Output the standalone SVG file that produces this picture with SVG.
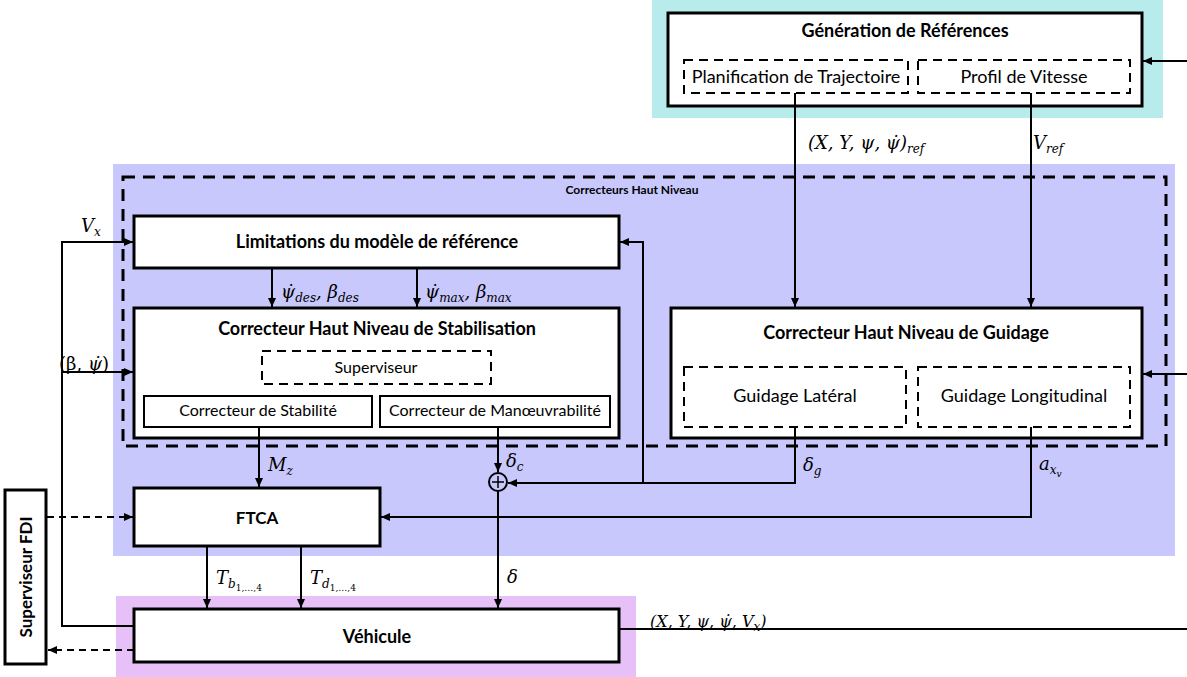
<svg xmlns="http://www.w3.org/2000/svg" width="1187" height="677" viewBox="0 0 1187 677">
<defs>
<marker id="ah" markerUnits="userSpaceOnUse" markerWidth="10" markerHeight="8" refX="9" refY="4" orient="auto">
<path d="M0,0 L9,4 L0,8 Z" fill="#000"/>
</marker>
<style>
.box{fill:#fff;stroke:#000;stroke-width:3}
.sub{fill:#fff;stroke:#000;stroke-width:2}
.dbox{fill:none;stroke:#000;stroke-width:2;stroke-dasharray:9,6}
.big{fill:none;stroke:#000;stroke-width:3;stroke-dasharray:12,8}
.ln{fill:none;stroke:#000;stroke-width:2}
.arr{fill:none;stroke:#000;stroke-width:2;marker-end:url(#ah)}
.dash{fill:none;stroke:#000;stroke-width:2;stroke-dasharray:7,5;marker-end:url(#ah)}
.t{font-family:Lato,"Open Sans",sans-serif;fill:#000;text-anchor:middle}
.b{font-weight:bold;font-size:18px}
.r{font-size:18px}
.c{font-size:16px}
.m{font-family:"DejaVu Serif","Liberation Serif",serif;font-style:italic;font-size:18px;fill:#000}
.s{font-size:12px}
.ss{font-size:9px}
.n{font-style:normal}
</style>
</defs>
<rect x="652" y="0" width="511" height="118" fill="#b8ecec"/>
<rect x="113" y="164" width="1062" height="392" fill="#c8c8fc"/>
<rect x="116" y="596" width="520" height="81" fill="#e6c0f6"/>
<g id="correcteurs-haut-niveau">
<rect class="big" x="123" y="177" width="1043" height="269"/>
<text class="t" x="632" y="194" style="font-weight:bold;font-size:12px">Correcteurs Haut Niveau</text>
</g>
<g id="generation">
<rect class="box" x="668" y="13" width="474" height="93"/>
<text class="t b" x="905" y="37">Génération de Références</text>
</g>
<g id="planification">
<rect class="dbox" x="684" y="60" width="224" height="33"/>
<text class="t r" x="796" y="83">Planification de Trajectoire</text>
</g>
<g id="profil">
<rect class="dbox" x="918" y="60" width="212" height="33"/>
<text class="t r" x="1024" y="83">Profil de Vitesse</text>
</g>
<g id="limitations">
<rect class="box" x="134" y="216" width="485" height="52"/>
<text class="t b" x="377" y="248">Limitations du modèle de référence</text>
</g>
<g id="stabilisation">
<rect class="box" x="134" y="308" width="485" height="130"/>
<text class="t b" x="377" y="335">Correcteur Haut Niveau de Stabilisation</text>
</g>
<g id="superviseur">
<rect class="dbox" x="262" y="351" width="229" height="33"/>
<text class="t c" x="376" y="373">Superviseur</text>
</g>
<g id="stabilite">
<rect class="sub" x="144" y="396" width="228" height="31"/>
<text class="t c" x="258" y="416">Correcteur de Stabilité</text>
</g>
<g id="manoeuvrabilite">
<rect class="sub" x="380" y="396" width="230" height="31"/>
<text class="t c" x="495" y="416">Correcteur de Manœuvrabilité</text>
</g>
<g id="guidage">
<rect class="box" x="671" y="308" width="471" height="130"/>
<text class="t b" x="906" y="339">Correcteur Haut Niveau de Guidage</text>
</g>
<g id="guidage-lateral">
<rect class="dbox" x="684" y="367" width="222" height="60"/>
<text class="t r" x="795" y="402">Guidage Latéral</text>
</g>
<g id="guidage-longitudinal">
<rect class="dbox" x="918" y="367" width="212" height="60"/>
<text class="t r" x="1024" y="402">Guidage Longitudinal</text>
</g>
<g id="ftca">
<rect class="box" x="134" y="488" width="246" height="58"/>
<text class="t" x="257" y="524" style="font-weight:bold;font-size:17px">FTCA</text>
</g>
<g id="superviseur-fdi">
<rect class="box" x="5" y="490" width="41" height="174"/>
<text class="t" x="0" y="0" transform="translate(32,577) rotate(-90)" style="font-weight:bold;font-size:17px">Superviseur FDI</text>
</g>
<g id="vehicule">
<rect class="box" x="134" y="609" width="485" height="53"/>
<text class="t b" x="377" y="643">Véhicule</text>
</g>
<g id="somme">
<circle cx="498" cy="482" r="9" fill="none" stroke="#000" stroke-width="2"/>
<path d="M492,482 H504 M498,476 V488" stroke="#000" stroke-width="1.5"/>
</g>
<g id="connecteurs">
<path class="arr" d="M1187,61 H1143"/>
<path class="arr" d="M1187,374 H1143"/>
<path class="arr" d="M795,93 V307"/>
<path class="arr" d="M1031,93 V307"/>
<path class="arr" d="M272,268 V307"/>
<path class="arr" d="M417,268 V307"/>
<path class="arr" d="M134,626 H62 V242 H133"/>
<path class="arr" d="M62,372 H133"/>
<path class="arr" d="M259,427 V487"/>
<path class="arr" d="M498,427 V472"/>
<path class="arr" d="M795,427 V483 H508"/>
<path class="arr" d="M643,483 V242 H620"/>
<path class="arr" d="M1031,427 V517 H381"/>
<path class="arr" d="M498,491 V608"/>
<path class="arr" d="M207,546 V608"/>
<path class="arr" d="M301,546 V608"/>
<path class="ln" d="M619,629 H1187"/>
<path class="dash" d="M47,517 H133"/>
<path class="dash" d="M134,650 H48"/>
</g>
<g id="labels">
<text class="m" x="808" y="149">(X, Y, ψ, ψ̇)<tspan class="s" dy="4">ref</tspan></text>
<text class="m" x="1033" y="149">V<tspan class="s" dy="4">ref</tspan></text>
<text class="m" x="81" y="232">V<tspan class="s" dy="4">x</tspan></text>
<text class="m" x="59" y="370"><tspan class="n">(β,</tspan> ψ̇<tspan class="n">)</tspan></text>
<text class="m" x="281" y="298">ψ̇<tspan class="s" dy="4">des</tspan><tspan dy="-4">, β</tspan><tspan class="s" dy="4">des</tspan></text>
<text class="m" x="425" y="298">ψ̇<tspan class="s" dy="4">max</tspan><tspan dy="-4">, β</tspan><tspan class="s" dy="4">max</tspan></text>
<text class="m" x="268" y="471">M<tspan class="s" dy="4">z</tspan></text>
<text class="m" x="506" y="467">δ<tspan class="s" dy="4">c</tspan></text>
<text class="m" x="803" y="471">δ<tspan class="s" dy="4">g</tspan></text>
<text class="m" x="1039" y="470">a<tspan class="s" dy="4">x</tspan><tspan class="ss" dy="3">v</tspan></text>
<text class="m" x="216" y="584">T<tspan class="s" dy="4">b</tspan><tspan class="ss n" dy="3">1,…,4</tspan></text>
<text class="m" x="310" y="584">T<tspan class="s" dy="4">d</tspan><tspan class="ss n" dy="3">1,…,4</tspan></text>
<text class="m" x="507" y="583">δ</text>
<text class="m" x="650" y="627" style="font-size:16px">(X, Y, ψ, ψ̇, V<tspan class="s" dy="4">x</tspan><tspan dy="-4">)</tspan></text>
</g>
</svg>
